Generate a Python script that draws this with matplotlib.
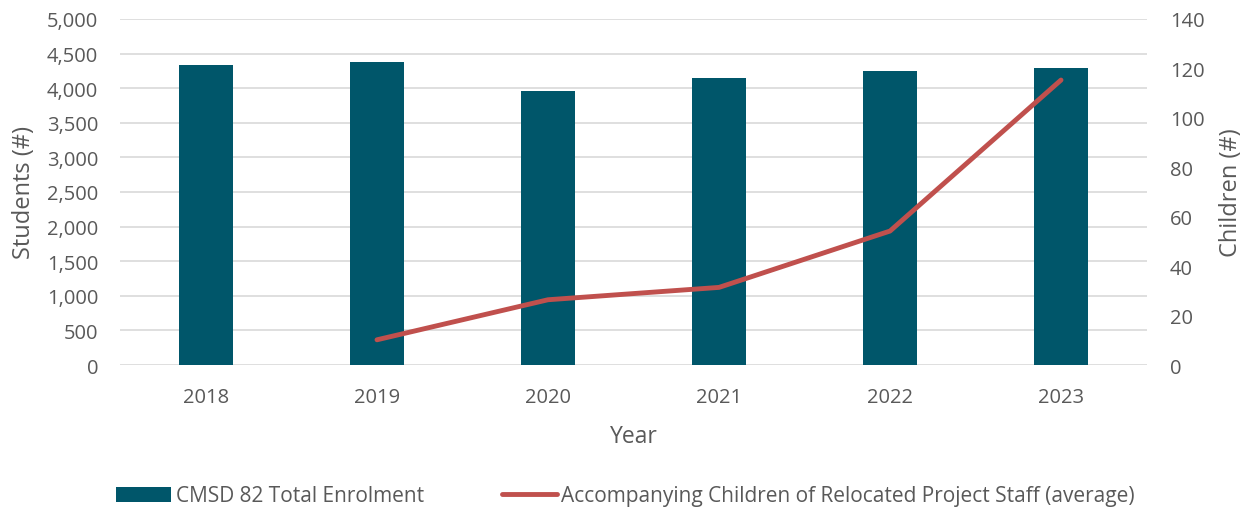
import matplotlib.pyplot as plt
from matplotlib.ticker import FuncFormatter

plt.rcParams['font.family'] = ['Open Sans', 'DejaVu Sans']

years = ['2018', '2019', '2020', '2021', '2022', '2023']
enrolment = [4330, 4380, 3955, 4150, 4250, 4290]
child_years = ['2019', '2020', '2021', '2022', '2023']
children = [10.2, 26.4, 31.4, 54.2, 115.3]

bar_color = '#00566A'
line_color = '#C0504D'
text_color = '#595959'

fig = plt.figure(figsize=(12.51, 5.10), dpi=100)
ax = fig.add_axes([120.5 / 1251, 1 - 366 / 510, 1026 / 1251, 346 / 510])
ax2 = ax.twinx()

x = list(range(len(years)))
bars = ax.bar(x, enrolment, width=0.316, color=bar_color, zorder=3,
              label='CMSD 82 Total Enrolment')
cx = [years.index(y) for y in child_years]
line, = ax2.plot(cx, children, color=line_color, linewidth=3.5,
                 solid_capstyle='round',
                 label='Accompanying Children of Relocated Project Staff (average)')

ax.set_xlim(-0.5, len(years) - 0.5)
ax.set_ylim(0, 5000)
ax.set_yticks(range(0, 5001, 500))
ax.yaxis.set_major_formatter(FuncFormatter(lambda v, p: f'{int(v):,}'))
ax2.set_ylim(0, 140)
ax2.set_yticks(range(0, 141, 20))

ax.set_xticks(x)
ax.set_xticklabels(years)
ax.grid(axis='y', color='#D9D9D9', linewidth=1.2, zorder=0)
ax.set_axisbelow(True)

for a in (ax, ax2):
    for s in a.spines.values():
        s.set_visible(False)
    a.tick_params(length=0, labelsize=14.5, labelcolor=text_color)
ax.tick_params(axis='y', pad=16)
ax2.tick_params(axis='y', pad=17)
ax.tick_params(axis='x', pad=16)

ax.set_xlabel('Year', fontsize=16.5, color=text_color, labelpad=12)
ax.set_ylabel('Students (#)', fontsize=17, color=text_color, labelpad=8)
ax2.set_ylabel('Children (#)', fontsize=17, color=text_color, labelpad=10)

fig.legend([bars, line],
           [bars.get_label(), line.get_label()],
           loc='center', bbox_to_anchor=(0.5, 1 - 497 / 510), ncol=2,
           frameon=False, fontsize=15, labelcolor=text_color,
           handlelength=2.64, handletextpad=0.2, columnspacing=3.75)

fig.savefig('out.png', dpi=100)
